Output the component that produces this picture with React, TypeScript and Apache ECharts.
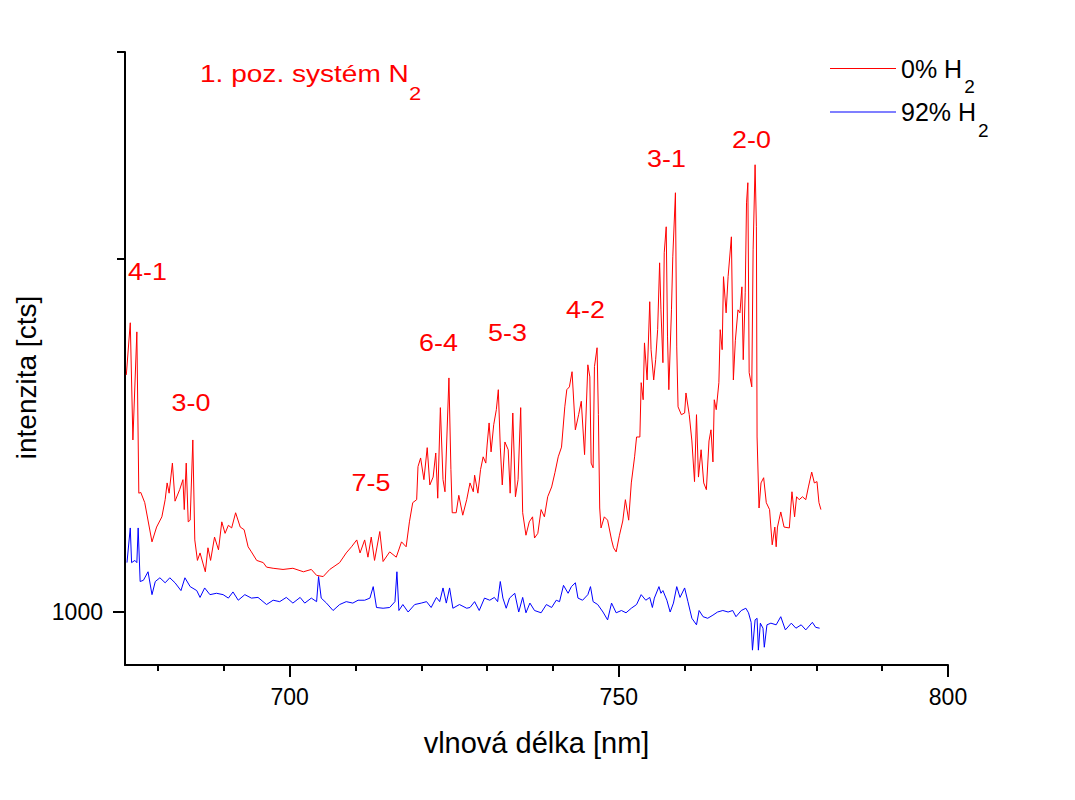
import React, { useEffect, useRef } from "react";
import * as echarts from "echarts";

// 0% H2 spectrum: [wavelength nm, intensity cts]
const spectrumH0: [number, number][] = [
  [675.2, 4690], [675.8, 6590], [676.2, 3070], [676.8, 6210], [677.1, 2170], [677.4, 2180], [678.0, 2040],
  [679.1, 1580], [679.8, 1740], [680.6, 1860], [681.1, 2080], [681.4, 2320], [681.7, 2170], [682.2, 2640],
  [682.6, 2060], [683.3, 2220], [683.8, 2370], [684.0, 1950], [684.3, 2640], [684.6, 1800], [684.9, 1820],
  [685.3, 3070], [685.6, 1600], [686.0, 1400], [686.4, 1470], [687.2, 1300], [687.6, 1520], [688.0, 1400],
  [688.6, 1630], [689.2, 1500], [689.7, 1800], [690.2, 1670], [690.7, 1760], [691.2, 1730], [691.8, 1910],
  [692.5, 1740], [693.1, 1710], [693.7, 1530], [694.2, 1480], [695.0, 1400], [696.0, 1380], [696.5, 1340],
  [697.5, 1330], [699.0, 1320], [700.5, 1330], [702.1, 1300], [703.3, 1320], [704.1, 1270], [705.1, 1260],
  [706.1, 1320], [707.6, 1380], [708.6, 1470], [709.4, 1530], [710.2, 1600], [710.7, 1470], [711.4, 1600],
  [711.9, 1430], [712.4, 1630], [712.9, 1400], [713.7, 1690], [714.2, 1390], [715.2, 1480], [716.2, 1430],
  [717.0, 1580], [717.7, 1530], [718.2, 1800], [718.7, 2040], [719.3, 2080], [719.5, 2580], [719.9, 2730],
  [720.4, 2370], [720.9, 2920], [721.3, 2290], [721.8, 2410], [722.2, 2820], [722.5, 2100], [722.9, 3790],
  [723.3, 2370], [723.6, 2190], [724.2, 4600], [724.5, 2530], [724.7, 1910], [725.3, 1910], [725.7, 2140],
  [726.3, 1880], [726.9, 2080], [727.4, 2320], [727.9, 2190], [728.1, 2440], [728.6, 2170], [729.0, 2530],
  [729.4, 2750], [729.8, 2640], [730.0, 2970], [730.3, 3430], [730.6, 2840], [731.0, 3390], [731.4, 3740],
  [731.7, 4260], [732.0, 2930], [732.3, 2290], [732.7, 3030], [733.2, 2880], [733.5, 2170], [733.9, 3660],
  [734.3, 2120], [734.7, 2370], [735.1, 3790], [735.4, 1910], [735.9, 1650], [736.4, 1800], [736.9, 1860],
  [737.2, 1620], [737.7, 1670], [738.2, 1950], [738.7, 1860], [739.2, 2120], [739.8, 2260], [740.3, 2480],
  [740.8, 2750], [741.3, 2930], [741.8, 3810], [742.1, 4260], [742.5, 4340], [742.9, 4790], [743.4, 3280],
  [743.9, 3620], [744.3, 3950], [744.8, 2790], [745.3, 5010], [745.6, 4630], [745.8, 2640], [746.1, 2560],
  [746.3, 4950], [746.7, 5600], [746.9, 3620], [747.1, 1970], [747.3, 1730], [747.8, 1860], [748.3, 1820],
  [748.9, 1600], [749.2, 1520], [749.6, 1480], [750.1, 1650], [750.6, 1810], [751.0, 2080], [751.5, 1820],
  [751.9, 2320], [752.4, 2750], [752.7, 3130], [753.2, 3130], [753.4, 4460], [753.7, 3990], [753.9, 5780],
  [754.3, 4540], [754.7, 7560], [754.9, 5530], [755.3, 4540], [755.6, 5180], [755.9, 6300], [756.2, 9740],
  [756.4, 7170], [756.7, 5080], [756.9, 10400], [757.2, 12320], [757.4, 6010], [757.6, 4260], [758.0, 7170],
  [758.2, 10130], [758.6, 15380], [758.8, 5630], [759.0, 3810], [759.5, 3620], [760.0, 3660], [760.2, 4170],
  [760.7, 3620], [761.1, 3050], [761.5, 2340], [761.8, 3620], [762.1, 2410], [762.5, 2880], [762.9, 2320],
  [763.3, 2220], [763.7, 3050], [764.0, 3280], [764.3, 2660], [764.5, 3990], [764.8, 3740], [765.2, 4460],
  [765.4, 6300], [765.7, 5530], [765.9, 8900], [766.3, 7030], [766.6, 8900], [767.1, 11540], [767.4, 4540],
  [767.7, 5860], [768.1, 7170], [768.4, 7030], [768.7, 8330], [768.9, 5180], [769.2, 8010], [769.4, 14400],
  [769.6, 16420], [769.8, 4760], [770.2, 4340], [770.4, 10600], [770.7, 18460], [770.9, 12320], [771.0, 3130],
  [771.3, 1970], [771.6, 2320], [772.0, 2400], [772.4, 2040], [772.9, 1950], [773.3, 1550], [773.7, 1740],
  [773.9, 1530], [774.1, 1740], [774.6, 1920], [775.1, 1740], [775.9, 1730], [776.3, 2190], [776.7, 1860],
  [777.0, 2120], [777.4, 2080], [777.9, 2120], [778.4, 2080], [778.8, 2260], [779.3, 2490], [779.7, 2320],
  [780.1, 2340], [780.4, 2040], [780.7, 1950],
];

// 92% H2 spectrum: [wavelength nm, intensity cts]
const spectrumH92: [number, number][] = [
  [675.3, 1380], [675.8, 1730], [676.0, 1380], [676.5, 1400], [676.8, 1380], [677.0, 1730], [677.3, 1220],
  [677.8, 1230], [678.5, 1300], [679.1, 1120], [679.6, 1220], [680.3, 1250], [681.1, 1210], [681.8, 1250],
  [682.6, 1210], [683.5, 1150], [684.1, 1250], [684.9, 1180], [685.9, 1150], [686.4, 1100], [687.1, 1170],
  [687.9, 1120], [688.9, 1130], [689.9, 1120], [690.7, 1095], [691.4, 1140], [692.2, 1080], [693.2, 1120],
  [694.2, 1095], [695.2, 1100], [696.5, 1050], [697.5, 1080], [698.5, 1070], [699.5, 1100], [700.5, 1060],
  [701.6, 1100], [702.3, 1060], [703.3, 1095], [704.1, 1070], [704.4, 1260], [704.8, 1095], [705.6, 1060],
  [706.6, 1010], [707.6, 1050], [708.6, 1070], [709.6, 1060], [710.4, 1080], [711.4, 1080], [712.2, 1095],
  [712.7, 1180], [713.2, 1030], [714.2, 1025], [715.2, 1030], [716.0, 1070], [716.3, 1300], [716.6, 1010],
  [717.2, 1050], [718.0, 1000], [719.0, 1050], [720.0, 1060], [720.8, 1070], [721.5, 1030], [722.3, 1100],
  [722.8, 1070], [723.3, 1170], [723.8, 1060], [724.3, 1170], [724.8, 1025], [725.8, 1050], [726.9, 1025],
  [727.4, 1030], [728.1, 1070], [728.8, 1010], [729.6, 1095], [730.4, 1080], [731.1, 1100], [731.6, 1070],
  [732.0, 1220], [732.4, 1095], [732.9, 1025], [733.4, 1095], [734.2, 1130], [734.8, 1000], [735.4, 1100],
  [735.9, 995], [736.5, 1060], [737.2, 1010], [738.2, 995], [739.0, 1050], [739.8, 1030], [740.5, 1080],
  [741.0, 1070], [741.6, 1190], [742.3, 1130], [742.8, 1180], [743.4, 1210], [743.8, 1095], [744.5, 1080],
  [745.3, 1120], [745.7, 1180], [746.1, 1070], [746.8, 1050], [747.6, 1000], [748.3, 950], [748.9, 1060],
  [749.6, 995], [750.4, 1010], [751.1, 995], [751.9, 1025], [752.7, 1050], [753.4, 1120], [754.1, 1080],
  [754.7, 1100], [755.1, 1030], [755.4, 1095], [756.1, 1180], [756.4, 1130], [756.7, 1150], [757.3, 1080],
  [757.8, 1000], [758.3, 1060], [758.8, 1180], [759.3, 1100], [760.0, 1170], [760.5, 1070], [761.1, 960],
  [761.8, 920], [762.2, 1010], [762.8, 970], [763.5, 960], [764.3, 980], [765.0, 1000], [765.8, 1010],
  [766.6, 1000], [767.3, 1010], [767.8, 970], [768.6, 1010], [769.3, 1025], [769.7, 995], [770.1, 935],
  [770.3, 780], [770.7, 950], [771.0, 960], [771.2, 780], [771.5, 930], [771.9, 900], [772.1, 795],
  [772.5, 920], [773.1, 930], [773.9, 920], [774.6, 970], [775.3, 890], [776.2, 930], [776.9, 900],
  [777.7, 920], [778.4, 890], [779.4, 935], [779.9, 905], [780.5, 900],
];

const seriesNames = ["0% H2", "92% H2"];
const xRange = [675, 800];
const yRange = [708, 38500];
const xMinorTicks = [680, 690, 700, 710, 720, 730, 740, 750, 760, 770, 780, 790, 800];
const xMajorTicks = [700, 750, 800];
const yMinorTicks = [10000, 38500];
const yMajorTicks = [1000];
const bandLabels = ["4-1", "3-0", "7-5", "6-4", "5-3", "4-2", "3-1", "2-0"];
// pixel anchors (left, vertical centre) of the band annotations
const bandLabelAnchors = [
  [128, 271.5], [171.5, 402.5], [351.5, 482.5], [419, 343],
  [488, 332.5], [566, 310], [647, 159], [732, 140],
];

const FONT = '"Liberation Sans", Arial, Helvetica, sans-serif';
const RED = "#ff0000";
const BLUE = "#0000ff";

export default function App() {
  const ref = useRef<HTMLDivElement>(null);

  useEffect(() => {
    if (!ref.current) return;
    const chart = echarts.init(ref.current, undefined, { renderer: "svg" });
    const axisLineStyle = { color: "#000", width: 2 };

    const option: any = {
      animation: false,
      backgroundColor: "#ffffff",
      grid: { left: 125, right: 127, top: 52, bottom: 135, containLabel: false },
      legend: {
        orient: "vertical",
        left: 830,
        top: 56,
        padding: 0,
        icon: "rect",
        itemWidth: 66,
        itemHeight: 1.2,
        itemGap: 3,
        selectedMode: false,
        data: seriesNames,
        formatter: (name: string) =>
          name === seriesNames[0] ? "{a|0% H}{b|2}" : "{a|92% H}{b|2}",
        textStyle: {
          color: "#000",
          fontFamily: FONT,
          rich: {
            a: { fontSize: 25, lineHeight: 56, fontFamily: FONT, color: "#000" },
            b: {
              fontSize: 19,
              lineHeight: 19,
              verticalAlign: "bottom",
              padding: [0, 0, 0, 2],
              fontFamily: FONT,
              color: "#000",
            },
          },
        },
      },
      xAxis: [
        {
          type: "value",
          min: xRange[0],
          max: xRange[1],
          position: "bottom",
          axisLine: { show: true, onZero: false, lineStyle: axisLineStyle },
          axisTick: { show: true, customValues: xMinorTicks, length: 6, lineStyle: axisLineStyle },
          axisLabel: { show: false },
          splitLine: { show: false },
          name: "vlnová délka [nm]",
          nameLocation: "middle",
          nameGap: 63,
          nameTextStyle: { fontSize: 29, color: "#000", fontFamily: FONT },
        },
        {
          type: "value",
          min: xRange[0],
          max: xRange[1],
          position: "bottom",
          offset: 0,
          axisLine: { show: false, onZero: false },
          axisTick: { show: true, customValues: xMajorTicks, length: 12, lineStyle: axisLineStyle },
          axisLabel: {
            show: true,
            customValues: xMajorTicks,
            margin: 20,
            fontSize: 23,
            color: "#000",
            fontFamily: FONT,
          },
          splitLine: { show: false },
        },
      ],
      yAxis: [
        {
          type: "log",
          logBase: 10,
          min: yRange[0],
          max: yRange[1],
          position: "left",
          axisLine: { show: true, onZero: false, lineStyle: axisLineStyle },
          axisTick: { show: true, customValues: yMinorTicks, length: 8, lineStyle: axisLineStyle },
          axisLabel: { show: false },
          splitLine: { show: false },
          name: "intenzita [cts]",
          nameLocation: "middle",
          nameGap: 85,
          nameTextStyle: { fontSize: 28, color: "#000", fontFamily: FONT, padding: [0, 38, 0, 0] },
        },
        {
          type: "log",
          logBase: 10,
          min: yRange[0],
          max: yRange[1],
          position: "left",
          offset: 0,
          axisLine: { show: false, onZero: false },
          axisTick: { show: true, customValues: yMajorTicks, length: 12, lineStyle: axisLineStyle },
          axisLabel: {
            show: true,
            customValues: yMajorTicks,
            margin: 22,
            fontSize: 23,
            color: "#000",
            fontFamily: FONT,
            formatter: (v: number) => String(Math.round(v)),
          },
          splitLine: { show: false },
        },
      ],
      series: [
        {
          name: seriesNames[0],
          type: "line",
          xAxisIndex: 0,
          yAxisIndex: 0,
          data: spectrumH0,
          symbol: "none",
          showSymbol: false,
          lineStyle: { color: RED, width: 1 },
          itemStyle: { color: RED },
          z: 3,
        },
        {
          name: seriesNames[1],
          type: "line",
          xAxisIndex: 0,
          yAxisIndex: 0,
          data: spectrumH92,
          symbol: "none",
          showSymbol: false,
          lineStyle: { color: BLUE, width: 1 },
          itemStyle: { color: BLUE },
          z: 2,
        },
      ],
      graphic: [
        {
          type: "text",
          x: 200,
          y: 73.5,
          scaleX: 1.22,
          style: {
            text: "{a|1. poz. systém N}{b|2}",
            fill: RED,
            align: "left",
            verticalAlign: "middle",
            fontFamily: FONT,
            rich: {
              a: { fontSize: 23, lineHeight: 58, fill: RED, fontFamily: FONT },
              b: { fontSize: 18, lineHeight: 18, verticalAlign: "bottom", fill: RED, fontFamily: FONT },
            },
          },
        },
        ...bandLabels.map((t, i) => ({
          type: "text",
          x: bandLabelAnchors[i][0],
          y: bandLabelAnchors[i][1],
          scaleX: 1.12,
          style: {
            text: t,
            fill: RED,
            fontSize: 24,
            fontFamily: FONT,
            align: "left",
            verticalAlign: "middle",
          },
        })),
      ],
    };

    chart.setOption(option);
    return () => chart.dispose();
  }, []);

  return (
    <div
      ref={ref}
      style={{ position: "absolute", left: 0, top: 0, width: 1075, height: 800, background: "#fff" }}
    />
  );
}
